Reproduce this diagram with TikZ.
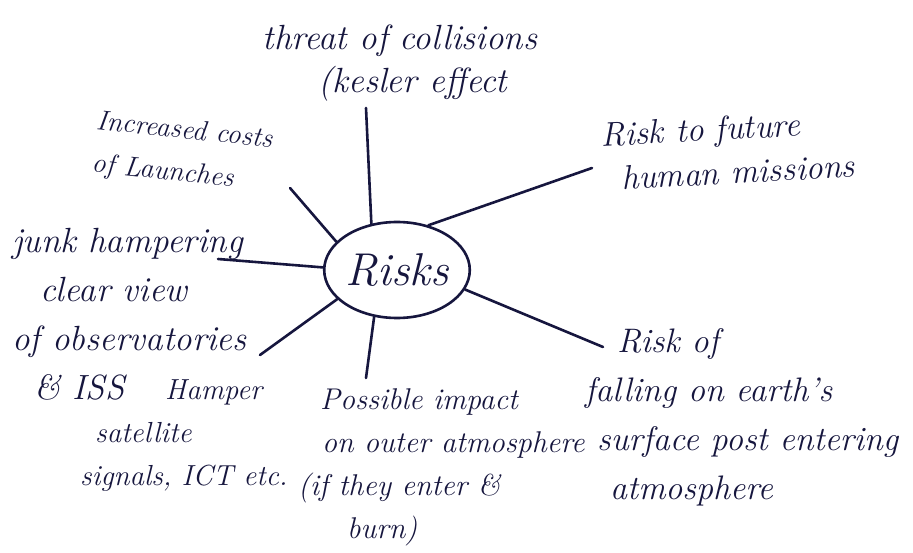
\documentclass[tikz,border=0pt]{standalone}
\usepackage{fontspec}
\usetikzlibrary{shapes.geometric}
\definecolor{ink}{RGB}{22,22,62}
\tikzset{
  txt/.style={text=ink, inner sep=0pt},
  link/.style={draw=ink, line width=2.6pt, line cap=round},
  hub/.style={ellipse, draw=ink, line width=2.6pt, minimum width=138pt, minimum height=96pt, inner sep=0pt, text=ink}
}
\begin{document}
\begin{tikzpicture}[x=1pt,y=-1pt]
\useasboundingbox[fill=white] (0,0) rectangle (913,553);
% hub
\node[hub, font=\itshape\fontsize{46}{48}\selectfont] (risks) at (397,270) {Risks};
% text groups
\node[txt, align=center, anchor=north, font=\itshape\fontsize{35}{43}\selectfont] (threat) at (400,25)
  {threat of collisions\\\hspace*{26pt}(kesler effect};
\node[txt, align=left, anchor=center, rotate=-6, font=\itshape\fontsize{28}{43}\selectfont] (costs) at (182,153)
  {Increased costs\\of Launches};
\node[txt, align=left, anchor=center, rotate=3, font=\itshape\fontsize{34}{44}\selectfont] (future) at (728,150)
  {Risk to future\\\hspace*{18pt}human missions};
\node[txt, align=left, anchor=north west, font=\itshape\fontsize{35}{49}\selectfont] (junk) at (12,228)
  {junk hampering\\\hspace*{28pt}clear view\\of observatories\\\hspace*{22pt}\& ISS};
\node[txt, align=left, anchor=north west, font=\itshape\fontsize{29}{43}\selectfont] (hamper) at (80,379)
  {\hspace*{85pt}Hamper\\\hspace*{15pt}satellite\\signals, ICT etc.};
\node[txt, align=left, anchor=north west, font=\itshape\fontsize{30}{43}\selectfont] (impact) at (292,388)
  {\hspace*{28pt}Possible impact\\\hspace*{30pt}on outer atmosphere\\\hspace*{6pt}(if they enter \&\\\hspace*{55pt}burn)};
\node[txt, align=left, anchor=north west, font=\itshape\fontsize{34}{49}\selectfont] (falling) at (585,328)
  {\hspace*{32pt}Risk of\\falling on earth's\\\hspace*{12pt}surface post entering\\\hspace*{25pt}atmosphere};
% free ends of connectors
\coordinate (e1) at (366,108);
\coordinate (e2) at (290,188);
\coordinate (e3) at (218,259);
\coordinate (e4) at (260,355);
\coordinate (e5) at (366,378);
\coordinate (e6) at (603,347);
\coordinate (e7) at (592,168);
% connectors
\draw[link] (risks.119) -- (e1);
\draw[link] (risks.155) -- (e2);
\draw[link] (risks.178) -- (e3);
\draw[link] (risks.206) -- (e4);
\draw[link] (risks.244) -- (e5);
\draw[link] (risks.344) -- (e6);
\draw[link] (risks.55) -- (e7);
\end{tikzpicture}
\end{document}
